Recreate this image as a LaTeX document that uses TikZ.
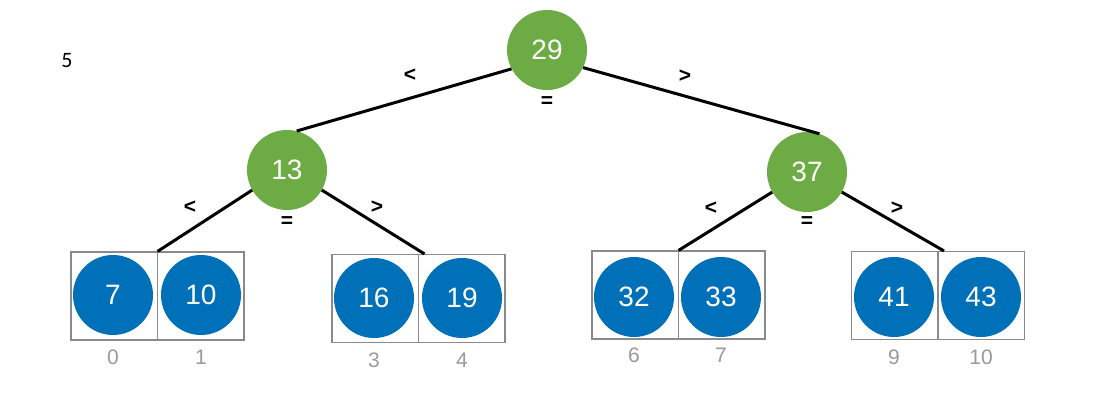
\documentclass[tikz,border=0pt]{standalone}
\usepackage{fontspec}
\setmainfont{Liberation Sans}
\newfontfamily\pagefont{Carlito}
\definecolor{leafgreen}{HTML}{6DAC45}
\definecolor{leafblue}{HTML}{0071B9}
\definecolor{idxgray}{HTML}{9A9A9A}
\definecolor{boxgray}{HTML}{8A8A8A}
\tikzset{
  gnode/.style={circle,fill=leafgreen,minimum size=80pt,inner sep=0pt,text=white,font=\fontsize{28}{30}\selectfont},
  bnode/.style={circle,fill=leafblue,minimum size=80pt,inner sep=0pt,text=white,font=\fontsize{28}{30}\selectfont},
  cellbox/.style={draw=boxgray,line width=1.1pt,minimum width=173pt,minimum height=88pt,inner sep=0pt},
  divline/.style={draw=boxgray,line width=1.1pt},
  edge/.style={draw=black,line width=3pt},
  cmp/.style={font=\bfseries\fontsize{21}{22}\selectfont},
  idx/.style={text=idxgray,font=\fontsize{21}{22}\selectfont}
}
\begin{document}
\begin{tikzpicture}[x=1pt,y=-1pt]
\useasboundingbox (0,0) rectangle (1111,406);
\fill[white] (0,0) rectangle (1111,406);
\node[font=\pagefont\fontsize{22}{24}\selectfont] (pg) at (67,61) {5};

% boxes
\node[cellbox] (bA) at (157.5,296) {};
\node[cellbox] (bB) at (418.5,298.5) {};
\node[cellbox] (bC) at (678.5,295) {};
\node[cellbox] (bD) at (938,295.5) {};
\foreach \b in {bA,bB,bC,bD} \draw[divline] (\b.north) -- (\b.south);

% inner nodes
\node[gnode] (r) at (547,50) {29};
\node[gnode] (a) at (287,170) {13};
\node[gnode] (b) at (807,172) {37};

% edges
\draw[edge] (r.208) -- (a.76);
\draw[edge] (r.334) -- (b.72);
\draw[edge] (a.210) -- (bA.north);
\draw[edge] (a.330) -- ([xshift=6pt]bB.north);
\draw[edge] (b.210) -- (bC.north);
\draw[edge] (b.330) -- ([xshift=6pt]bD.north);

% comparison labels
\node[cmp] (lr) at (410,75) {<};
\node[cmp] (gr) at (685,76) {>};
\node[cmp] (er) at (547,102) {=};
\node[cmp] (la) at (190,207) {<};
\node[cmp] (ga) at (377,207) {>};
\node[cmp] (ea) at (287,222) {=};
\node[cmp] (lb) at (711,208) {<};
\node[cmp] (gb) at (897,208) {>};
\node[cmp] (eb) at (807,222) {=};

% leaves
\node[bnode] (n7) at (113,295) {7};
\node[bnode] (n10) at (201,295) {10};
\node[bnode] (n16) at (374,298) {16};
\node[bnode] (n19) at (462,298) {19};
\node[bnode] (n32) at (634,297) {32};
\node[bnode] (n33) at (721,297) {33};
\node[bnode] (n41) at (894,297) {41};
\node[bnode] (n43) at (981,297) {43};

% indices
\node[idx] (i0) at (113,357) {0};
\node[idx] (i1) at (201,357) {1};
\node[idx] (i3) at (374,360) {3};
\node[idx] (i4) at (462,360) {4};
\node[idx] (i6) at (634,355) {6};
\node[idx] (i7) at (721,355) {7};
\node[idx] (i9) at (894,357) {9};
\node[idx] (i10) at (981,357) {10};
\end{tikzpicture}
\end{document}
